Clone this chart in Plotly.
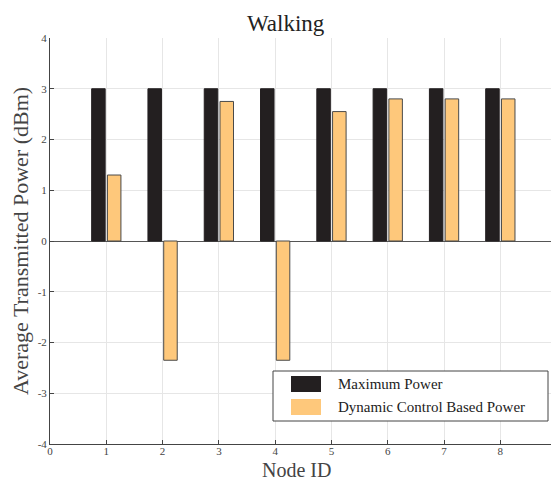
import plotly.graph_objects as go

nodes = [1, 2, 3, 4, 5, 6, 7, 8]
max_power = [3, 3, 3, 3, 3, 3, 3, 3]
dynamic_power = [1.3, -2.35, 2.75, -2.35, 2.55, 2.8, 2.8, 2.8]
x_ticks = [0, 1, 2, 3, 4, 5, 6, 7, 8]
y_ticks = [-4, -3, -2, -1, 0, 1, 2, 3, 4]
y_tick_labels = ["-4", "-3", "-2", "-1", "0", "1", "2", "3", "4"]
series_names = ["Maximum Power", "Dynamic Control Based Power"]
colors = ["#231f20", "#fec87b"]

FONT = "Liberation Serif"

fig = go.Figure()
fig.add_trace(go.Bar(x=nodes, y=max_power, name=series_names[0], width=0.24, offset=-0.26,
                     marker=dict(color=colors[0], line=dict(color="#231f20", width=1)),
                     showlegend=False))
fig.add_trace(go.Bar(x=nodes, y=dynamic_power, name=series_names[1], width=0.24, offset=0.02,
                     marker=dict(color=colors[1], line=dict(color="#4a4a4a", width=1)),
                     showlegend=False))

# custom legend (MATLAB-like box with wide swatches)
lx0, lx1, ly0, ly1 = 273, 548, 371, 421
W, H, L, T = 551, 482, 50, 38
pw, ph = W - L, 444 - T
def px(x):
    return (x - L) / pw
def py(y):
    return 1 - (y - T) / ph

shapes = [dict(type="rect", xref="paper", yref="paper", x0=px(lx0), x1=px(lx1), y0=py(ly1), y1=py(ly0),
               line=dict(color="#444", width=1), fillcolor="white", layer="above")]
annotations = []
for i, (name, col) in enumerate(zip(series_names, colors)):
    yc = 384 + i * 23
    shapes.append(dict(type="rect", xref="paper", yref="paper", x0=px(291), x1=px(321),
                       y0=py(yc + 8), y1=py(yc - 8), line=dict(width=0), fillcolor=col, layer="above"))
    annotations.append(dict(x=px(336), y=py(yc), xref="paper", yref="paper", text=name, showarrow=False,
                            xanchor="left", yanchor="middle", font=dict(family=FONT, size=15, color="#222")))

annotations.append(dict(x=px(286), y=py(24), xref="paper", yref="paper", text="Walking", showarrow=False,
                        xanchor="center", yanchor="middle", font=dict(family=FONT, size=23, color="#222")))
annotations.append(dict(x=px(296), y=py(482), xref="paper", yref="paper", text="Node ID", showarrow=False,
                        xanchor="center", yanchor="bottom", borderpad=0,
                        font=dict(family=FONT, size=20, color="#444")))

fig.update_layout(
    width=W, height=H,
    margin=dict(l=L, r=0, t=T, b=H - 444),
    paper_bgcolor="white", plot_bgcolor="white",
    shapes=shapes, annotations=annotations,
    xaxis=dict(range=[0, 8.9], tickvals=x_ticks, ticks="inside", ticklen=4, tickcolor="#444",
               showline=True, linecolor="#444", linewidth=1, mirror=False, automargin=False,
               ticklabelstandoff=-3,
               showgrid=True, gridcolor="#e6e6e6", zeroline=False,
               tickfont=dict(family=FONT, size=11, color="#444")),
    yaxis=dict(range=[-4, 4], tickvals=y_ticks, ticktext=y_tick_labels, ticks="inside", ticklen=4, tickcolor="#444",
               showline=True, linecolor="#444", linewidth=1, automargin=False,
               showgrid=True, gridcolor="#e6e6e6", zeroline=True, zerolinecolor="#555", zerolinewidth=1,
               tickfont=dict(family=FONT, size=11, color="#444"),
               title=dict(text="Average Transmitted Power (dBm)", font=dict(family=FONT, size=22, color="#444"), standoff=2)),
)

fig.write_html("out.html")
